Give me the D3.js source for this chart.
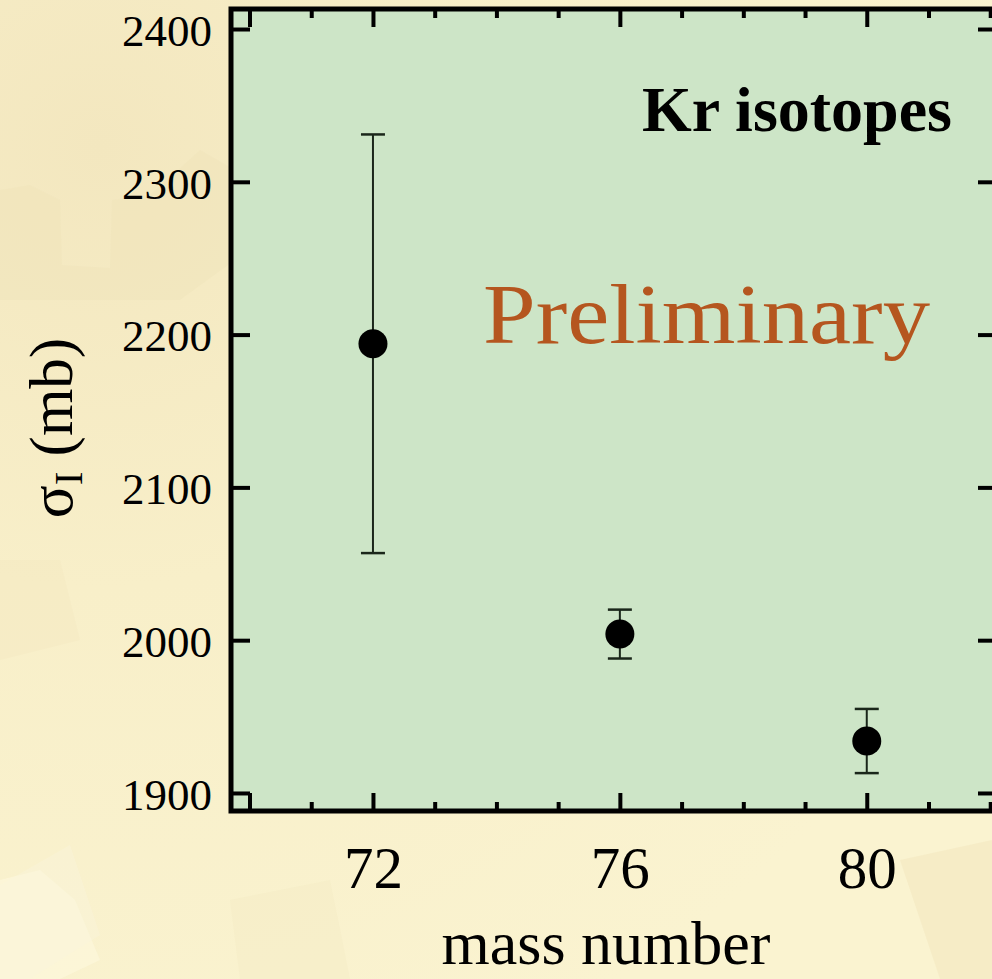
<!DOCTYPE html>
<html>
<head>
<meta charset="utf-8">
<script src="https://cdn.jsdelivr.net/npm/d3@7"></script>
<style>
  html, body { margin: 0; padding: 0; background: #f8f0cb; }
  svg { display: block; }
</style>
</head>
<body>
<svg id="chart" width="992" height="979"></svg>
<script>
// Kr isotopes: interaction cross section vs mass number
const massNumbers = [72, 76, 80];
const sigmaValues = [2194, 2004, 1934];
const sigmaErrors = [137, 16, 21];

const xMajorTicks = [72, 76, 80];
const xMinorTicks = [70, 71, 73, 74, 75, 77, 78, 79, 81, 82];
const yTicks = [1900, 2000, 2100, 2200, 2300, 2400];

const W = 992, H = 979;
const plot = { left: 231, right: 997, top: 9, bottom: 811 };

const svg = d3.select("#chart");
const serif = "'Liberation Serif', 'Times New Roman', serif";

// page background with soft gear-like shapes
const defs = svg.append("defs");
const bg = defs.append("radialGradient").attr("id", "bgGrad")
  .attr("cx", "0.1").attr("cy", "0.15").attr("r", "1.0");
bg.append("stop").attr("offset", "0").attr("stop-color", "#f3e7bf");
bg.append("stop").attr("offset", "0.45").attr("stop-color", "#f8efc9");
bg.append("stop").attr("offset", "1").attr("stop-color", "#faf3d0");
svg.append("rect").attr("width", W).attr("height", H).attr("fill", "url(#bgGrad)");

const shapes = [
  { pts: [[0, 190], [30, 185], [60, 200], [62, 265], [110, 268], [112, 200], [150, 195], [200, 150], [235, 170], [235, 260], [180, 300], [0, 300]], fill: "#efe2b6", op: 0.35 },
  { pts: [[0, 880], [40, 870], [75, 900], [100, 960], [60, 979], [0, 979]], fill: "#fdf8de", op: 0.6 },
  { pts: [[0, 885], [70, 845], [100, 935], [30, 979], [0, 979]], fill: "#fbf6dc", op: 0.4 },
  { pts: [[900, 860], [992, 840], [992, 979], [940, 979]], fill: "#f1e5bb", op: 0.45 },
  { pts: [[230, 900], [330, 880], [350, 979], [240, 979]], fill: "#f3e8c0", op: 0.3 },
  { pts: [[0, 560], [60, 560], [80, 640], [0, 660]], fill: "#f2e6bc", op: 0.3 }
];
svg.append("g").selectAll("polygon").data(shapes).join("polygon")
  .attr("points", d => d.pts.map(p => p.join(",")).join(" "))
  .attr("fill", d => d.fill).attr("opacity", d => d.op);

// scales
const x = d3.scaleLinear().domain([69.7, 82.11]).range([plot.left, plot.right]);
const y = d3.scaleLinear().domain([1888.2, 2413.1]).range([plot.bottom, plot.top]);

// plot area
svg.append("rect")
  .attr("x", plot.left).attr("y", plot.top)
  .attr("width", plot.right - plot.left).attr("height", plot.bottom - plot.top)
  .attr("fill", "#cde5c7");

// axes: inward ticks on all four sides
function styleAxis(g) {
  g.select(".domain").remove();
  g.selectAll(".tick line").attr("stroke", "#000").attr("stroke-width", 4);
}

const gBottomMinor = svg.append("g").attr("transform", `translate(0,${plot.bottom})`)
  .call(d3.axisBottom(x).tickValues(xMinorTicks).tickSize(-9).tickFormat(""));
const gBottomMajor = svg.append("g").attr("transform", `translate(0,${plot.bottom})`)
  .call(d3.axisBottom(x).tickValues(xMajorTicks.concat([70])).tickSize(-18)
    .tickFormat(d => xMajorTicks.includes(d) ? d : ""));
const gTopMinor = svg.append("g").attr("transform", `translate(0,${plot.top})`)
  .call(d3.axisTop(x).tickValues(xMinorTicks).tickSize(-9).tickFormat(""));
const gTopMajor = svg.append("g").attr("transform", `translate(0,${plot.top})`)
  .call(d3.axisTop(x).tickValues(xMajorTicks.concat([70])).tickSize(-18).tickFormat(""));
const gLeft = svg.append("g").attr("transform", `translate(${plot.left},0)`)
  .call(d3.axisLeft(y).tickValues(yTicks).tickSize(-19).tickPadding(19).tickFormat(d3.format("d")));
const gRight = svg.append("g").attr("transform", `translate(${plot.right},0)`)
  .call(d3.axisRight(y).tickValues(yTicks).tickSize(-19).tickFormat(""));

[gBottomMinor, gBottomMajor, gTopMinor, gTopMajor, gLeft, gRight].forEach(styleAxis);

gLeft.selectAll(".tick text")
  .attr("font-family", serif).attr("font-size", 45).attr("fill", "#000")
  .attr("dy", "0.36em");
gBottomMajor.selectAll(".tick text")
  .attr("font-family", serif).attr("font-size", 59).attr("fill", "#000")
  .attr("y", 77).attr("dy", 0);

// frame
svg.append("rect")
  .attr("x", plot.left).attr("y", plot.top)
  .attr("width", plot.right - plot.left).attr("height", plot.bottom - plot.top)
  .attr("fill", "none").attr("stroke", "#000").attr("stroke-width", 5);

// error bars
const pts = massNumbers.map((m, i) => ({ m, v: sigmaValues[i], e: sigmaErrors[i] }));
const eb = svg.append("g").attr("stroke", "#1a261a");
eb.selectAll("line.stem").data(pts).join("line").attr("class", "stem")
  .attr("x1", d => x(d.m)).attr("x2", d => x(d.m))
  .attr("y1", d => y(d.v + d.e)).attr("y2", d => y(d.v - d.e))
  .attr("stroke-width", 2);
eb.selectAll("line.capHi").data(pts).join("line").attr("class", "capHi")
  .attr("x1", d => x(d.m) - 12).attr("x2", d => x(d.m) + 12)
  .attr("y1", d => y(d.v + d.e)).attr("y2", d => y(d.v + d.e))
  .attr("stroke-width", 2.5);
eb.selectAll("line.capLo").data(pts).join("line").attr("class", "capLo")
  .attr("x1", d => x(d.m) - 12).attr("x2", d => x(d.m) + 12)
  .attr("y1", d => y(d.v - d.e)).attr("y2", d => y(d.v - d.e))
  .attr("stroke-width", 2.5);

// markers
svg.append("g").selectAll("circle").data(pts).join("circle")
  .attr("cx", d => x(d.m)).attr("cy", d => y(d.v))
  .attr("r", 14.5).attr("fill", "#000");

// annotations
svg.append("text")
  .attr("x", 952).attr("y", 131).attr("text-anchor", "end")
  .attr("font-family", serif).attr("font-weight", "bold").attr("font-size", 64)
  .attr("fill", "#000").text("Kr isotopes");

svg.append("text")
  .attr("x", 483).attr("y", 343)
  .attr("font-family", serif).attr("font-size", 84)
  .attr("textLength", 447).attr("lengthAdjust", "spacingAndGlyphs")
  .attr("fill", "#b5561f").text("Preliminary");

// axis titles
svg.append("text")
  .attr("x", 606).attr("y", 964).attr("text-anchor", "middle")
  .attr("font-family", serif).attr("font-size", 62).attr("fill", "#000")
  .text("mass number");

const yl = svg.append("text")
  .attr("transform", "translate(72,428) rotate(-90)")
  .attr("text-anchor", "middle")
  .attr("font-family", serif).attr("font-size", 61).attr("fill", "#000");
yl.append("tspan").text("σ");
yl.append("tspan").attr("font-size", 41).attr("dy", 10).text("I");
yl.append("tspan").attr("dy", -10).text(" (mb)");
</script>
</body>
</html>
